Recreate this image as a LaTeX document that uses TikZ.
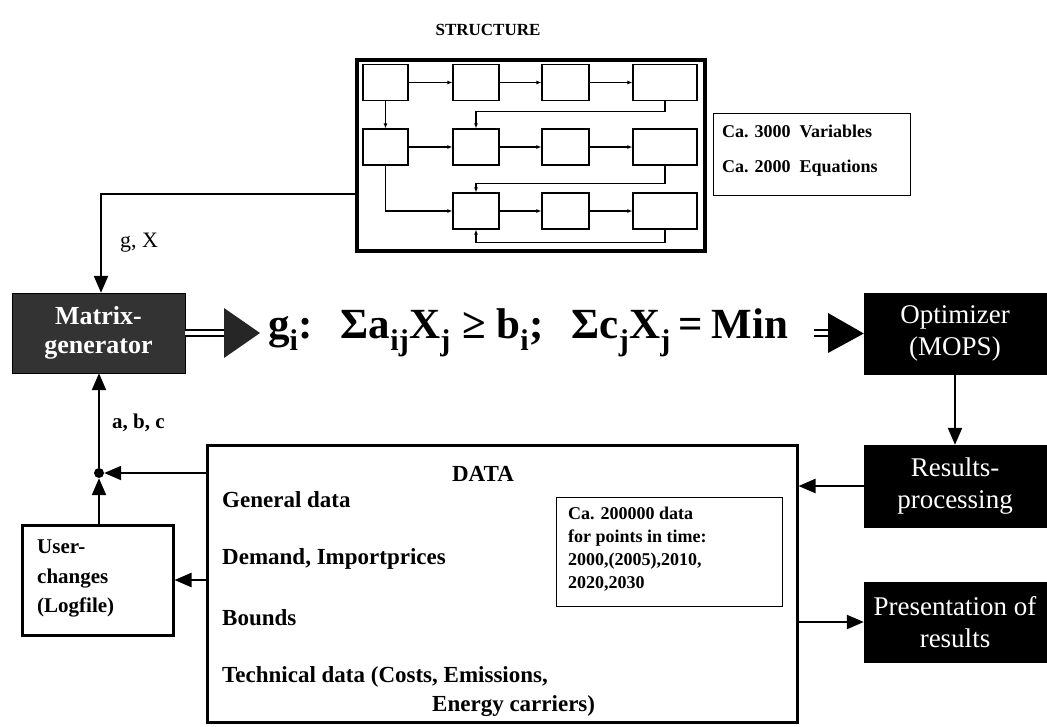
\documentclass[tikz,border=0pt]{standalone}
\usepackage{fontspec}
\setmainfont{Liberation Serif}
\usetikzlibrary{arrows.meta}
\begin{document}
\begin{tikzpicture}[x=1pt,y=-1pt,
  sbox/.style={draw,line width=1.2pt,inner sep=0pt},
  sarr/.style={line width=1.1pt,-{Latex[length=5pt,width=4pt]}},
  bigarr/.style={line width=2.2pt,-{Triangle[length=17pt,width=14pt]}},
  blackbox/.style={fill=black,draw=black,text=white,align=center,font=\fontsize{27}{32}\selectfont,inner sep=0pt},
  lbl/.style={font=\bfseries\fontsize{21}{25}\selectfont,anchor=west,inner sep=0pt},
  datatxt/.style={font=\bfseries\fontsize{23}{27}\selectfont,anchor=west,inner sep=0pt},
  dbl/.style={double,double distance=4pt,line width=1.6pt}
]
\useasboundingbox (0,0) rectangle (1047,726);
% STRUCTURE
\node[font=\bfseries\fontsize{17}{20}\selectfont] (stitle) at (488,30) {STRUCTURE};
\node[draw,line width=4pt,minimum width=348pt,minimum height=191pt,inner sep=0pt] (struct) at (531,155.5) {};
% inner boxes
\foreach \c/\cx/\w in {1/385.5/45,2/476/46,3/565.5/47,4/665/64}{
  \foreach \r/\cy in {1/82.5,2/147}{
    \node[sbox,minimum width=\w pt,minimum height=36pt] (b\r\c) at (\cx,\cy) {};
  }
}
\foreach \c/\cx/\w in {2/476/46,3/565.5/47,4/665/64}{
  \node[sbox,minimum width=\w pt,minimum height=36pt] (b3\c) at (\cx,211) {};
}
\draw[sarr] (b11) -- (b12);
\draw[sarr] (b12) -- (b13);
\draw[sarr] (b13) -- (b14);
\draw[sarr] (b21) -- (b22);
\draw[sarr] (b22) -- (b23);
\draw[sarr] (b23) -- (b24);
\draw[sarr] (b32) -- (b33);
\draw[sarr] (b33) -- (b34);
\draw[sarr] (b11) -- (b21);
\draw[sarr] (b14.south) -- ++(0,10) -| (b22.north);
\draw[sarr] (b24.south) -- ++(0,18) -| (b32.north);
\draw[sarr] (b21.south) |- (b32.west);
\draw[sarr] (b34.south) -- ++(0,13) -| (b32.south);
% info box
\node[draw,line width=1pt,minimum width=197pt,minimum height=82pt,inner sep=0pt] (info) at (811.5,154) {};
\node[font=\bfseries\fontsize{18}{21}\selectfont,anchor=west,inner sep=0pt] (info1) at (722,131) {Ca. 3000\ \ Variables};
\node[font=\bfseries\fontsize{18}{21}\selectfont,anchor=west,inner sep=0pt] (info2) at (722,168) {Ca. 2000\ \ Equations};
% Matrix generator
\node[fill=black!80,draw=black,text=white,align=center,minimum width=173pt,minimum height=80pt,inner sep=0pt,font=\bfseries\fontsize{26}{29}\selectfont] (matrix) at (98.5,333) {Matrix-\\generator};
\coordinate (gturn) at (101,194);
\draw[bigarr] (struct.west |- gturn) -- (gturn) -- (matrix.north -| gturn);
\node[font=\fontsize{22}{25}\selectfont,anchor=west,inner sep=0pt] (gx) at (120,243) {g, X};
% formula
\coordinate (dh1) at (225,333);
\draw[dbl] (matrix.east) -- (dh1);
\fill[black!85] (224,308) -- (260,333) -- (224,358) -- cycle;
\node[font=\bfseries\fontsize{43}{47}\selectfont,anchor=west,inner sep=0pt] (formula) at (268,333)
  {g\textsubscript{i}:\hspace{28pt}Σa\textsubscript{ij}X\textsubscript{j}\hspace{12pt}≥\hspace{10pt}b\textsubscript{i};\hspace{28pt}Σc\textsubscript{j}X\textsubscript{j}\hspace{8pt}=\hspace{8pt}Min};
% Optimizer
\node[blackbox,minimum width=182pt,minimum height=81pt] (opt) at (955,333.5) {Optimizer\\(MOPS)};
\coordinate (ds2) at (814,333);
\coordinate (dh2) at (829,333);
\draw[dbl] (ds2) -- (dh2);
\fill (828,313) -- (opt.west) -- (828,353) -- cycle;
% Results
\node[blackbox,minimum width=182pt,minimum height=82pt] (res) at (955,486) {Results-\\processing};
\draw[bigarr] (opt.south -| res.north) -- (res.north);
% Presentation
\node[blackbox,minimum width=182pt,minimum height=80pt] (pres) at (955,622) {Presentation of\\results};
% DATA box
\node[draw,line width=3pt,minimum width=590pt,minimum height=277pt,inner sep=0pt] (data) at (502,583.5) {};
\draw[bigarr] (res.west) -- (data.east |- res.west);
\draw[bigarr] (data.east |- pres.west) -- (pres.west);
\node[font=\bfseries\fontsize{23}{26}\selectfont] (dtitle) at (483,474) {DATA};
\node[datatxt] (d1) at (222,500) {General data};
\node[datatxt] (d2) at (222,559) {Demand, Importprices};
\node[datatxt] (d3) at (222,618) {Bounds};
\node[datatxt] (d4) at (222,677) {Technical data (Costs, Emissions,};
\node[datatxt] (d5) at (432,706) {Energy carriers)};
\node[draw,line width=1pt,minimum width=226pt,minimum height=109pt,inner sep=0pt] (dbox) at (669,551.5) {};
\node[font=\bfseries\fontsize{18}{23}\selectfont,anchor=north west,align=left,inner sep=0pt] (dboxt) at (568,507)
  {Ca. 200000 data\\for points in time:\\2000,(2005),2010,\\2020,2030};
% User changes
\node[draw,line width=3pt,minimum width=151pt,minimum height=110pt,inner sep=0pt] (user) at (97.5,580) {};
\node[lbl,anchor=north west,align=left,font=\bfseries\fontsize{21}{29.5}\selectfont] (usert) at (37,540) {User-\\changes\\(Logfile)};
\draw[bigarr] (data.west |- user.east) -- (user.east);
% junction
\node[circle,fill=black,minimum size=10pt,inner sep=0pt] (junc) at (99,473) {};
\draw[bigarr] (data.west |- junc) -- (junc.east);
\draw[bigarr] (user.north -| junc) -- (junc.south);
\draw[bigarr] (junc.north) -- (matrix.south -| junc);
\node[lbl] (abc) at (112,423) {a, b, c};
\end{tikzpicture}
\end{document}
